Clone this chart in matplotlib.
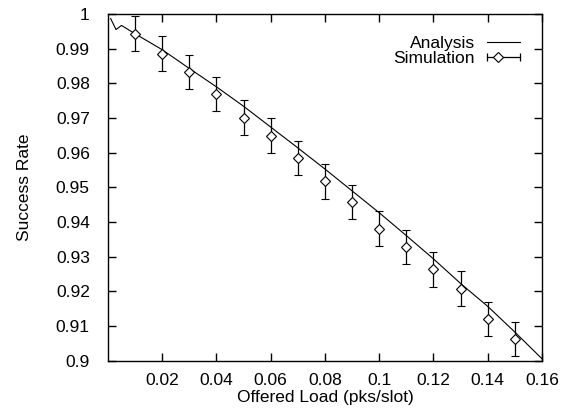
import numpy as np
import matplotlib
matplotlib.use("Agg")
import matplotlib.pyplot as plt
from matplotlib.lines import Line2D
from matplotlib.legend_handler import HandlerBase

plt.rcParams['font.family'] = ['Liberation Sans', 'DejaVu Sans']

# analysis curve
load_analysis = [0.001, 0.003, 0.005, 0.01, 0.02, 0.03, 0.04, 0.05, 0.06, 0.07,
                 0.08, 0.09, 0.10, 0.11, 0.12, 0.13, 0.14, 0.15, 0.16]
rate_analysis = [0.9987, 0.9955, 0.9967, 0.9943, 0.9897, 0.9843, 0.9790, 0.9734,
                 0.9674, 0.9614, 0.9553, 0.9490, 0.9427, 0.9361, 0.9294, 0.9223,
                 0.9157, 0.9083, 0.9006]

# simulation points with error bars
load_sim = [0.01, 0.02, 0.03, 0.04, 0.05, 0.06, 0.07, 0.08, 0.09, 0.10,
            0.11, 0.12, 0.13, 0.14, 0.15]
rate_sim = [0.9943, 0.9886, 0.9833, 0.9769, 0.9701, 0.9649, 0.9585, 0.9518,
            0.9458, 0.9381, 0.9328, 0.9264, 0.9208, 0.9121, 0.9063]
err_sim = [0.005] * 15

xticks = [0.02, 0.04, 0.06, 0.08, 0.10, 0.12, 0.14, 0.16]
xtick_labels = ["0.02", "0.04", "0.06", "0.08", "0.1", "0.12", "0.14", "0.16"]
yticks = [0.90, 0.91, 0.92, 0.93, 0.94, 0.95, 0.96, 0.97, 0.98, 0.99, 1.0]
ytick_labels = ["0.9", "0.91", "0.92", "0.93", "0.94", "0.95", "0.96", "0.97",
                "0.98", "0.99", "1"]


class GnuplotErrHandler(HandlerBase):
    # key sample like gnuplot: |-<>---|
    def create_artists(self, legend, orig_handle, xdescent, ydescent,
                       width, height, fontsize, trans):
        y = height / 2 - ydescent
        x0, x1 = -xdescent, width - xdescent
        line = Line2D([x0, x1], [y, y], color="black", lw=0.9, transform=trans)
        caps = Line2D([x0, x1], [y, y], ls="none", marker="|", ms=6,
                      mew=0.9, color="black", transform=trans)
        dia = Line2D([x0 + 0.35 * (x1 - x0)], [y], ls="none", marker="D", ms=5,
                     mfc="white", mec="black", mew=0.8, transform=trans)
        return [line, caps, dia]


fig = plt.figure(figsize=(5.62, 4.11), dpi=100)
ax = fig.add_axes([0.192, 0.122, 0.7724, 0.844])

ln, = ax.plot(load_analysis, rate_analysis, color="black", lw=0.8)
eb = ax.errorbar(load_sim, rate_sim, yerr=err_sim, fmt="D", color="black",
                 mfc="white", mec="black", ms=5.5, mew=0.8, elinewidth=0.9,
                 capsize=3, capthick=0.9)

ax.set_xlim(0, 0.16)
ax.set_ylim(0.9, 1.0)
ax.set_xticks(xticks)
ax.set_xticklabels(xtick_labels)
ax.set_yticks(yticks)
ax.set_yticklabels(ytick_labels)
ax.tick_params(direction="in", length=6, width=1, top=True, right=True,
               labelsize=12.5)
ax.tick_params(axis="y", pad=13)
ax.tick_params(axis="x", pad=9)
for s in ax.spines.values():
    s.set_linewidth(1)

ax.set_xlabel("Offered Load (pks/slot)", fontsize=12.5, labelpad=1)
ax.set_ylabel("Success Rate", fontsize=12.5, labelpad=17)

ax.legend([ln, eb], ["Analysis", "Simulation"], loc="upper right",
          frameon=False, markerfirst=False, fontsize=12.5,
          handlelength=1.9, handletextpad=0.7, labelspacing=0.0,
          borderaxespad=0.0, bbox_to_anchor=(0.965, 0.956),
          handler_map={type(eb): GnuplotErrHandler()})

fig.savefig("out.png", dpi=100)
